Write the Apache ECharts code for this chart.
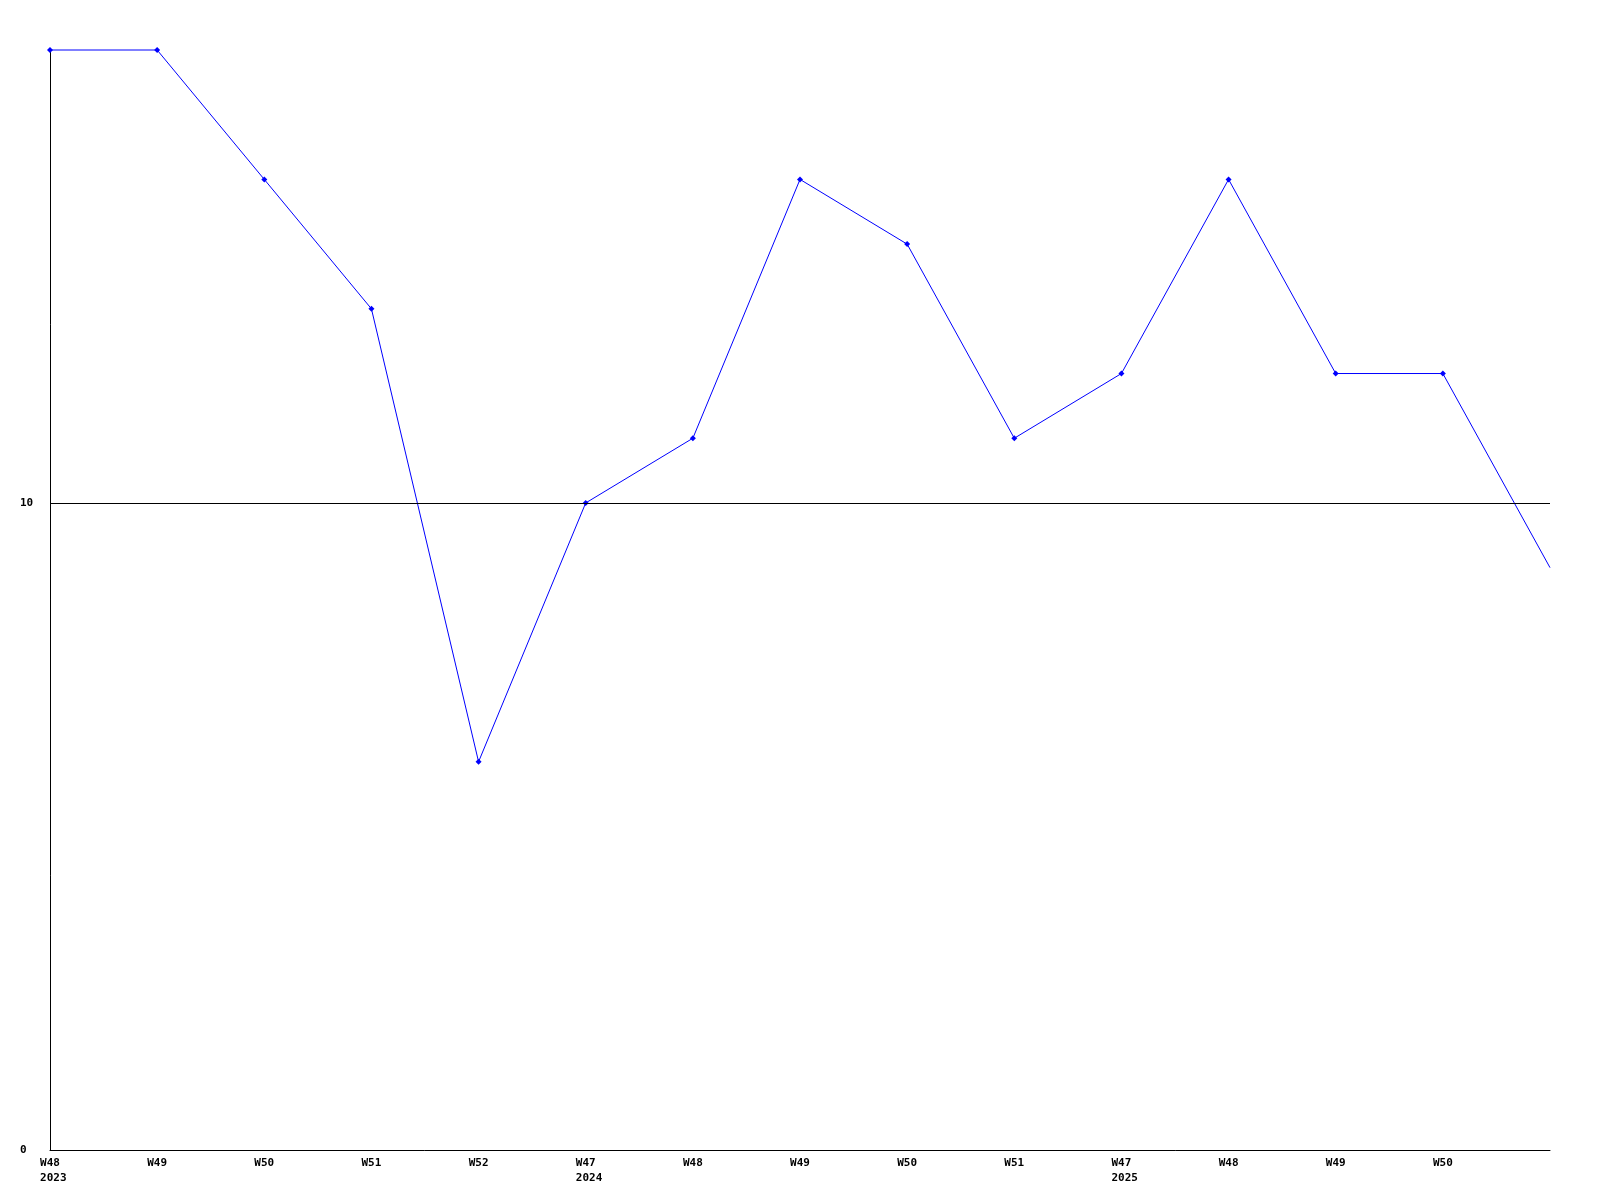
<!DOCTYPE html>
<html>
<head>
<meta charset="utf-8">
<script src="https://cdn.jsdelivr.net/npm/echarts@6/dist/echarts.min.js"></script>
<style>
  html, body { margin: 0; padding: 0; background: #fff; }
  #chart { width: 1600px; height: 1200px; }
</style>
</head>
<body>
<div id="chart"></div>
<script>
// week labels along the bottom, year shown under first week of each year
var weeks = ['W48', 'W49', 'W50', 'W51', 'W52', 'W47', 'W48', 'W49', 'W50', 'W51', 'W47', 'W48', 'W49', 'W50', 'W51'];
var years = ['2023', '', '', '', '', '2024', '', '', '', '', '2025', '', '', '', ''];
var values = [17, 17, 15, 13, 6, 10, 11, 15, 14, 11, 12, 15, 12, 12, 9];
var yMax = 17;
var refLine = 10;

var chart = echarts.init(document.getElementById('chart'));
var font = '"DejaVu Sans Mono", monospace';

chart.setOption({
  animation: false,
  backgroundColor: '#ffffff',
  grid: { left: 50, right: 50, top: 50, bottom: 50, containLabel: false },
  xAxis: {
    type: 'category',
    data: weeks,
    boundaryGap: false,
    axisLine: { lineStyle: { color: '#000', width: 1 } },
    axisTick: { show: false },
    splitLine: { show: false },
    axisLabel: {
      color: '#000',
      fontFamily: font,
      fontWeight: 'bold',
      fontSize: 11,
      lineHeight: 15,
      margin: 6,
      interval: 0,
      formatter: function (v, i) {
        if (i === weeks.length - 1) return '';   // last week has no label
        return years[i] ? v + '\n ' + years[i] : v;
      }
    }
  },
  yAxis: {
    type: 'value',
    min: 0,
    max: yMax,
    interval: 10,
    axisLine: { show: true, lineStyle: { color: '#000', width: 1 } },
    axisTick: { show: false },
    splitLine: { show: false },
    axisLabel: {
      color: '#000',
      fontFamily: font,
      fontWeight: 'bold',
      fontSize: 11,
      align: 'left',
      margin: 30,
      showMaxLabel: false
    }
  },
  series: [{
    type: 'line',
    data: values.map(function (v, i) {
      return i === values.length - 1 ? { value: v, symbol: 'none' } : v;
    }),
    symbol: 'diamond',
    symbolSize: 6,
    showAllSymbol: true,
    clip: false,
    lineStyle: { color: '#0000ff', width: 1 },
    itemStyle: { color: '#0000ff' },
    markLine: {
      silent: true,
      symbol: 'none',
      label: { show: false },
      lineStyle: { color: '#000', width: 1, type: 'solid' },
      data: [{ yAxis: refLine }]
    }
  }]
});
</script>
</body>
</html>
